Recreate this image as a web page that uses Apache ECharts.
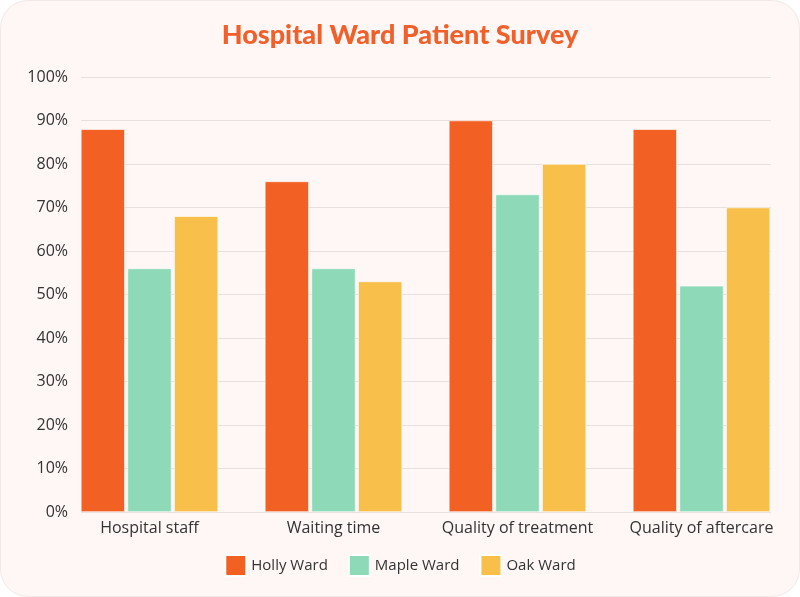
<!DOCTYPE html>
<html>
<head>
<meta charset="utf-8">
<script src="https://cdn.jsdelivr.net/npm/echarts@6/dist/echarts.min.js"></script>
<style>
    html, body { margin: 0; padding: 0; background: #ffffff; }
    .card {
        width: 798px; height: 595px;
        background: #fef7f6;
        border: 1px solid #f1e9e8;
        border-radius: 28px;
        overflow: hidden;
    }
    #chart { width: 798px; height: 595px; }
</style>
</head>
<body>
<div class="card"><div id="chart"></div></div>
<script>
// categories and ward values (percent)
const categories = ['Hospital staff', 'Waiting time', 'Quality of treatment', 'Quality of aftercare'];
const hollyWard = [88, 76, 90, 88];
const mapleWard = [56, 56, 73, 52];
const oakWard = [68, 53, 80, 70];

const colors = ['#f26024', '#8dd9b8', '#f9bf4b'];
const font = '"Open Sans", Lato, sans-serif';

function barSeries(name, data, color) {
    return {
        name: name,
        type: 'bar',
        xAxisIndex: 1,
        yAxisIndex: 1,
        data: data,
        barWidth: 44,
        barGap: '6%',
        itemStyle: { color: color, borderColor: '#ffffff', borderWidth: 0.6 }
    };
}

let myChart = echarts.init(document.getElementById('chart'));
myChart.setOption({
    animation: false,
    textStyle: { fontFamily: font },
    title: {
        text: 'Hospital Ward Patient Survey',
        left: 'center',
        top: 16,
        textStyle: { color: '#f1602a', fontSize: 27, fontWeight: 900, fontFamily: 'Lato, sans-serif' }
    },
    legend: {
        bottom: 14,
        left: 'center',
        itemWidth: 21,
        itemHeight: 21,
        itemGap: 20,
        icon: 'rect',
        textStyle: { color: '#333', fontSize: 15, fontFamily: font },
        data: ['Holly Ward', 'Maple Ward', 'Oak Ward']
    },
    grid: [
        { left: 80, right: 28, top: 76, bottom: 84 },
        { left: 56.5, right: 5.5, top: 76, bottom: 84 }
    ],
    xAxis: [
        { gridIndex: 0, type: 'category', data: categories, show: false },
        {
            gridIndex: 1, type: 'category', data: categories,
            axisLine: { show: false }, axisTick: { show: false },
            axisLabel: { color: '#333', fontSize: 16, margin: 8, interval: 0, fontFamily: font }
        }
    ],
    yAxis: [
        {
            gridIndex: 0, type: 'value', min: 0, max: 100, interval: 10,
            axisLine: { show: false }, axisTick: { show: false },
            axisLabel: { color: '#333', fontSize: 16, margin: 13, formatter: '{value}%', fontFamily: font },
            splitLine: { lineStyle: { color: '#e6e0df', width: 1 } }
        },
        { gridIndex: 1, type: 'value', min: 0, max: 100, interval: 10, show: false }
    ],
    series: [
        barSeries('Holly Ward', hollyWard, colors[0]),
        barSeries('Maple Ward', mapleWard, colors[1]),
        barSeries('Oak Ward', oakWard, colors[2])
    ]
});
</script>
</body>
</html>
